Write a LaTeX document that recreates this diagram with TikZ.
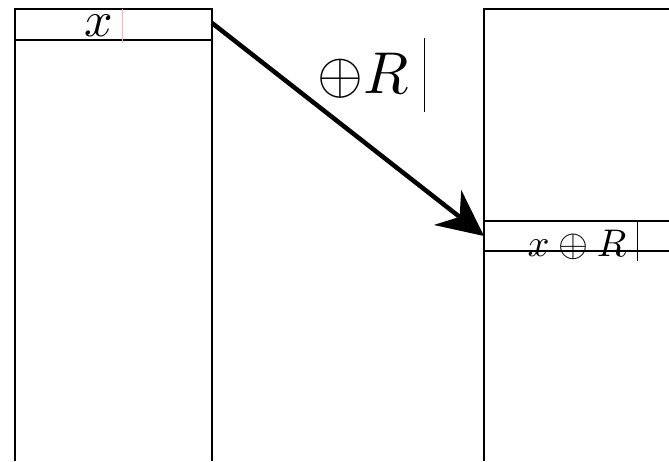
\documentclass[tikz,border=0pt]{standalone}
\usetikzlibrary{arrows.meta}
\begin{document}
\begin{tikzpicture}[x=1pt,y=-1pt,
  frame/.style={line width=1.6pt, black},
  cursor/.style={line width=0.8pt, black},
  bigarrow/.style={line width=4.5pt, -{Stealth[length=46pt,width=44pt,inset=15pt]}},
  lbl/.style={anchor=base, inner sep=0pt, outer sep=0pt}]
\useasboundingbox (0,0) rectangle (669,461);
% left column
\draw[frame] (15,461) -- (15,9) -- (212,9) -- (212,461);
\draw[frame] (15,40) -- (212,40);
\draw[red!30, line width=0.6pt] (122,9) -- (122,43);
\node[lbl, scale=5] (tx) at (99,36) {$x$};
% right column
\draw[frame] (484,461) -- (484,9) -- (669,9);
\draw[frame] (484,221) -- (669,221);
\draw[frame] (484,251) -- (669,251);
\draw[cursor] (637,221) -- (637,261);
\node[lbl, scale=3.85] (bx) at (577,256) {$x\oplus R$};
% label
\node[lbl, scale=5.9] (op) at (363,93) {$\oplus R$};
\draw[cursor] (424,38) -- (424,112);
% arrow
\coordinate (src) at (212,23);
\coordinate (dst) at (484,236);
\draw[bigarrow] (src) -- (dst);
\end{tikzpicture}
\end{document}
